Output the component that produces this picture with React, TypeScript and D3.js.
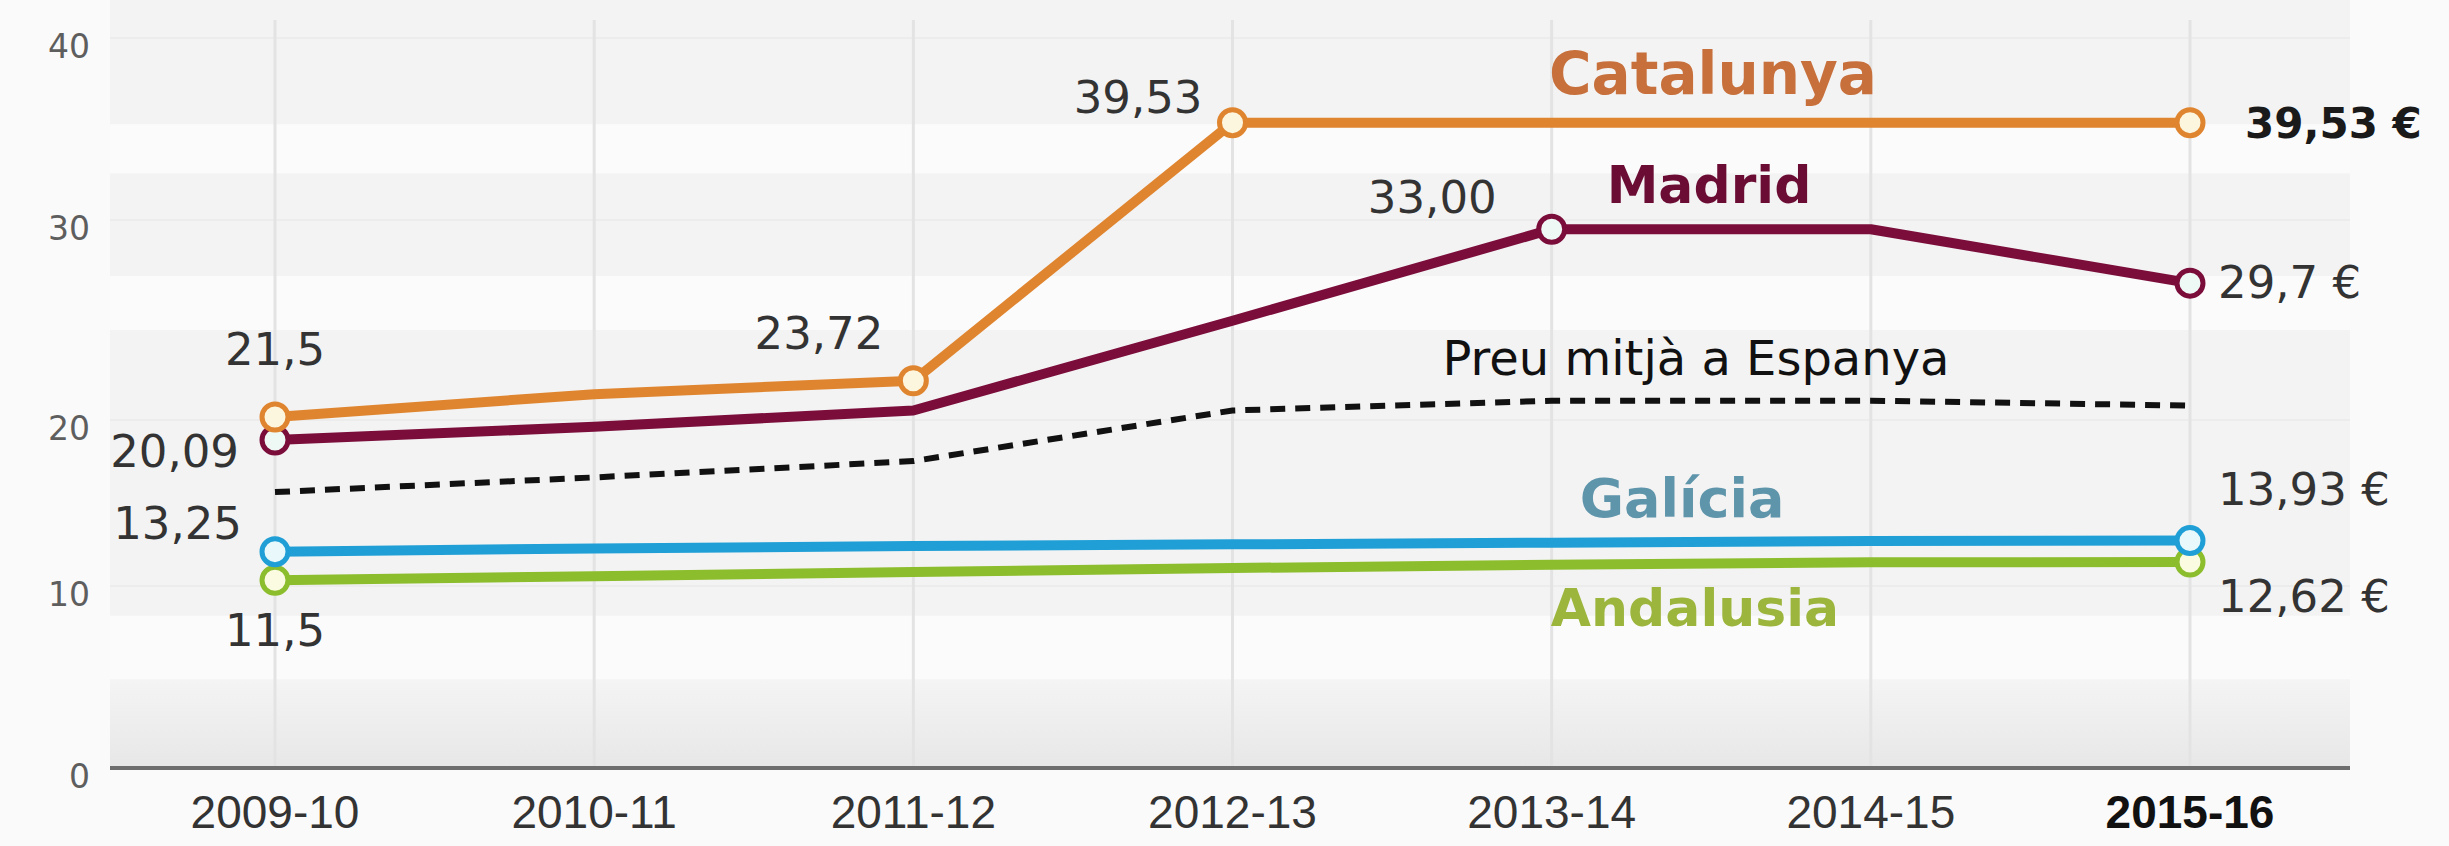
import React from 'react';
import * as d3 from 'd3';

const categories = ['2009-10', '2010-11', '2011-12', '2012-13', '2013-14', '2014-15', '2015-16'];
const catalunya = [21.5, 22.9, 23.72, 39.53, 39.53, 39.53, 39.53];
const madrid = [20.09, 20.9, 21.9, 27.4, 33.0, 33.0, 29.7];
const mitjaEspanya = [16.9, 17.8, 18.8, 21.9, 22.5, 22.5, 22.2];
const galicia = [13.25, 13.45, 13.6, 13.7, 13.8, 13.9, 13.93];
const andalusia = [11.5, 11.75, 12.0, 12.25, 12.45, 12.6, 12.62];
const yTicks = [0, 10, 20, 30, 40];

const W = 2449;
const H = 846;
const SANS = '"Liberation Sans", Arial, Helvetica, sans-serif';
const WIDE = '"DejaVu Sans", Verdana, sans-serif';

const x = d3.scalePoint<string>().domain(categories).range([275, 2190]);
const y = d3.scaleLinear().domain([0, 40]).range([768, 115]);
// the printed axis labels are not evenly spaced in the original graphic
const yLabel = d3.scaleLinear().domain(yTicks).range([776, 594, 428, 228, 46]);

const line = d3.line<number>()
  .x((_, i) => x(categories[i]) as number)
  .y(d => y(d));

type Series = { name: string; values: number[]; color: string; fill: string; marks: number[] };

const series: Series[] = [
  { name: 'Andalusia', values: andalusia, color: '#8cbd2c', fill: '#fbfbe2', marks: [0, 6] },
  { name: 'Galícia', values: galicia, color: '#1f9fd6', fill: '#e9f9fb', marks: [0, 6] },
  { name: 'Madrid', values: madrid, color: '#7b0d3b', fill: '#eef8f5', marks: [0, 4, 6] },
  { name: 'Catalunya', values: catalunya, color: '#e0852f', fill: '#fdf6df', marks: [0, 2, 3, 6] },
];

const fmt = (v: number, d: number) => v.toFixed(d).replace('.', ',');

export default function App() {
  const bottom = y(0);
  const left = 110;
  const right = 2350;
  const px = (i: number) => x(categories[i]) as number;

  // white horizontal bands behind the plot
  const bands: [number, number][] = [[35.7, 33.0], [27.6, 24.9], [8.8, 5.3]];

  return (
    <svg width={W} height={H} style={{ position: 'absolute', left: 0, top: 0, background: '#fafafa' }}
      fontFamily={SANS}>
      <defs>
        <linearGradient id="lowBand" x1="0" y1="0" x2="0" y2="1">
          <stop offset="0%" stopColor="#f4f4f4" />
          <stop offset="100%" stopColor="#e7e7e7" />
        </linearGradient>
      </defs>
      <rect x={left} y={0} width={right - left} height={bottom} fill="#f3f3f3" />
      {bands.map(([a, b], i) => (
        <rect key={i} x={left} y={yLabel(a)} width={right - left} height={yLabel(b) - yLabel(a)} fill="#fbfbfb" />
      ))}
      <rect x={left} y={yLabel(5.3)} width={right - left} height={bottom - yLabel(5.3)} fill="url(#lowBand)" />
      {yTicks.slice(1).map(t => (
        <line key={t} x1={left} x2={right} y1={yLabel(t) - 8} y2={yLabel(t) - 8} stroke="#ececec" strokeWidth={2} />
      ))}

      {/* vertical grid */}
      {categories.map(c => (
        <line key={c} x1={x(c)} x2={x(c)} y1={20} y2={bottom} stroke="#e3e3e3" strokeWidth={3} />
      ))}

      {/* axis */}
      <line x1={left} x2={right} y1={bottom} y2={bottom} stroke="#6e6e6e" strokeWidth={4} />
      {yTicks.map(t => (
        <text key={t} x={90} y={yLabel(t)} dy="0.35em" textAnchor="end" fontFamily={WIDE} fontSize={33} fill="#5e5e5e">{t}</text>
      ))}
      {categories.map((c, i) => (
        <text key={c} x={x(c)} y={812} dy="0.35em" textAnchor="middle" fontSize={46}
          fontWeight={i === categories.length - 1 ? 'bold' : 'normal'} fill={i === categories.length - 1 ? '#111' : '#333'}>{c}</text>
      ))}

      {/* average price */}
      <path d={line(mitjaEspanya) ?? ''} fill="none" stroke="#111" strokeWidth={6} strokeDasharray="15 10" />

      {series.map(s => (
        <g key={s.name}>
          <path d={line(s.values) ?? ''} fill="none" stroke={s.color} strokeWidth={10} strokeLinejoin="round" />
          {s.marks.map(i => (
            <circle key={i} cx={px(i)} cy={y(s.values[i])} r={13} fill={s.fill} stroke={s.color} strokeWidth={5} />
          ))}
        </g>
      ))}

      {/* value labels */}
      <g fontFamily={WIDE} fontSize={45} fill="#333">
        <text x={px(0)} y={y(catalunya[0]) - 52} textAnchor="middle">{fmt(catalunya[0], 1)}</text>
        <text x={px(0) - 36} y={y(madrid[0]) + 27} textAnchor="end">{fmt(madrid[0], 2)}</text>
        <text x={px(0) - 33} y={y(galicia[0]) - 13} textAnchor="end">{fmt(galicia[0], 2)}</text>
        <text x={px(0)} y={y(andalusia[0]) + 66} textAnchor="middle">{fmt(andalusia[0], 1)}</text>
        <text x={px(2) - 30} y={y(catalunya[2]) - 32} textAnchor="end">{fmt(catalunya[2], 2)}</text>
        <text x={px(3) - 30} y={y(catalunya[3]) - 10} textAnchor="end">{fmt(catalunya[3], 2)}</text>
        <text x={px(4) - 55} y={y(madrid[4]) - 16} textAnchor="end">{fmt(madrid[4], 2)}</text>
        <text x={px(6) + 55} y={y(catalunya[6]) + 15} fontSize={42} fontWeight="bold" fill="#1a1a1a">{fmt(catalunya[6], 2)} €</text>
        <text x={px(6) + 28} y={y(madrid[6]) + 15}>{fmt(madrid[6], 1)} €</text>
        <text x={px(6) + 28} y={y(galicia[6]) - 36}>{fmt(galicia[6], 2)} €</text>
        <text x={px(6) + 28} y={y(andalusia[6]) + 50}>{fmt(andalusia[6], 2)} €</text>
      </g>

      {/* series names */}
      <g fontFamily={WIDE} fontWeight="bold" textAnchor="middle">
        <text x={1713} y={y(catalunya[5]) - 29} fontSize={58} fill="#c8703c">Catalunya</text>
        <text x={1709} y={y(madrid[5]) - 26} fontSize={52} fill="#6b0c34">Madrid</text>
        <text x={1682} y={y(galicia[5]) - 24} fontSize={54} fill="#5f95ab">Galícia</text>
        <text x={1695} y={y(andalusia[5]) + 64} fontSize={52} fill="#9cb53c">Andalusia</text>
      </g>
      <text x={1696} y={y(mitjaEspanya[5]) - 26} textAnchor="middle" fontFamily={WIDE} fontSize={48} fill="#111">Preu mitjà a Espanya</text>
    </svg>
  );
}
